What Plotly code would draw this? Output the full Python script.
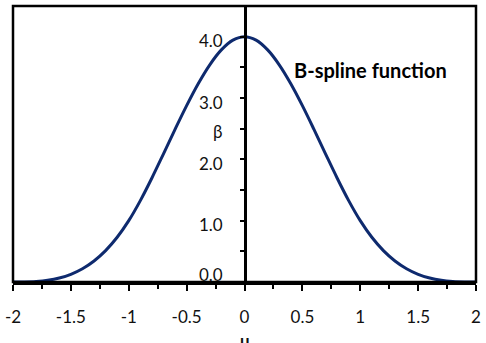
import plotly.graph_objects as go

# values
u_vals = [-2.0, -1.9, -1.8, -1.7, -1.6, -1.5, -1.4, -1.3, -1.2, -1.1, -1.0,
          -0.9, -0.8, -0.7, -0.6, -0.5, -0.4, -0.3, -0.2, -0.1, 0.0,
          0.1, 0.2, 0.3, 0.4, 0.5, 0.6, 0.7, 0.8, 0.9, 1.0,
          1.1, 1.2, 1.3, 1.4, 1.5, 1.6, 1.7, 1.8, 1.9, 2.0]
beta_vals = [0.0, 0.001, 0.008, 0.027, 0.064, 0.125, 0.216, 0.343, 0.512, 0.729, 1.0,
             1.327, 1.696, 2.089, 2.488, 2.875, 3.232, 3.541, 3.784, 3.943, 4.0,
             3.943, 3.784, 3.541, 3.232, 2.875, 2.488, 2.089, 1.696, 1.327, 1.0,
             0.729, 0.512, 0.343, 0.216, 0.125, 0.064, 0.027, 0.008, 0.001, 0.0]

x_tick_vals = [-2, -1.5, -1, -0.5, 0, 0.5, 1, 1.5, 2]
x_tick_text = ["-2", "-1.5", "-1", "-0.5", "0", "0.5", "1", "1.5", "2"]
y_tick_vals = [0, 1, 2, 3, 4]
y_tick_text = ["0.0", "1.0", "2.0", "3.0", "4.0"]

FONT = "Lato"
LINE = "#0E2A6E"
TXT = "#111111"

fig = go.Figure()
fig.add_trace(go.Scatter(x=u_vals, y=beta_vals, mode="lines",
                         line=dict(color=LINE, width=3, shape="spline"),
                         hoverinfo="skip", showlegend=False))

annotations = [
    dict(text="<b>B-spline function</b>", x=1.09, y=3.46, xref="x", yref="y",
         xanchor="center", yanchor="middle", showarrow=False,
         font=dict(family=FONT, size=20, color="black")),
    dict(text="β", x=-0.237, y=2.45, xref="x", yref="y", xanchor="center",
         yanchor="middle", showarrow=False, font=dict(family=FONT, size=17, color=TXT)),
    dict(text="<b>u</b>", x=0, y=-0.165, xref="x", yref="paper", xanchor="center",
         yanchor="top", showarrow=False, font=dict(family=FONT, size=17, color=TXT)),
]
for v, t in zip(y_tick_vals, y_tick_text):
    annotations.append(dict(text=t, x=0, y=v, xref="x", yref="y", xanchor="right",
                            yanchor="middle", xshift=-20, yshift=(8 if v == 0 else -4),
                            showarrow=False, font=dict(family=FONT, size=17, color=TXT)))

fig.update_layout(
    width=486, height=343,
    margin=dict(l=9, r=5, t=6, b=61),
    paper_bgcolor="white", plot_bgcolor="white",
    font=dict(family=FONT, size=17, color=TXT),
    xaxis=dict(range=[-2, 2], tickvals=x_tick_vals, ticktext=x_tick_text,
               showgrid=False, zeroline=False, showline=True, linecolor="black",
               linewidth=2.5, ticks="outside", ticklen=6, tickwidth=2, tickcolor="black",
               minor=dict(tickvals=[-1.75, -1.25, -0.75, -0.25, 0.25, 0.75, 1.25, 1.75],
                          ticks="outside", ticklen=4, tickwidth=2, tickcolor="black"),
               ticklabelstandoff=12, tickfont=dict(size=17, family=FONT, color=TXT),
               fixedrange=True),
    yaxis=dict(range=[0, 4.5], tickvals=[0, 0.5, 1, 1.5, 2, 2.5, 3, 3.5, 4],
               showticklabels=False,
               anchor="free", position=0.5,
               showgrid=False, zeroline=False, showline=True, linecolor="black",
               linewidth=2.5, ticks="outside", ticklen=4, tickwidth=2, tickcolor="black",
               fixedrange=True),
    shapes=[dict(type="rect", xref="paper", yref="paper", x0=0, x1=1, y0=0, y1=1,
                 line=dict(color="black", width=2.5), fillcolor="rgba(0,0,0,0)")],
    annotations=annotations,
)

fig.write_html("out.html")
